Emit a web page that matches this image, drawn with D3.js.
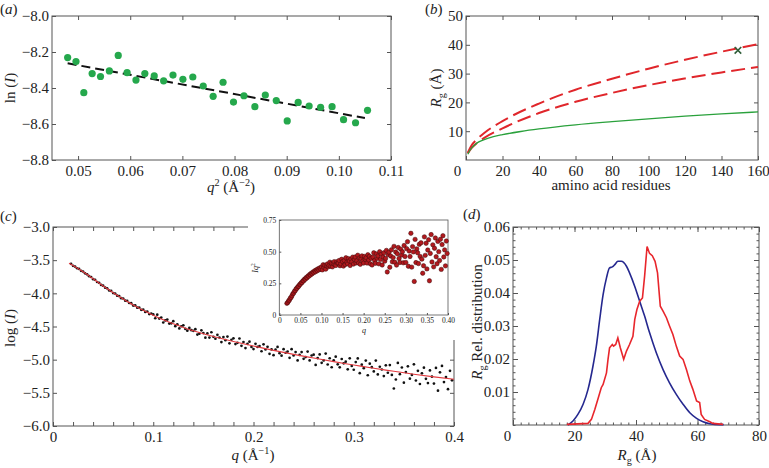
<!DOCTYPE html>
<html>
<head>
<meta charset="utf-8">
<script src="https://cdn.jsdelivr.net/npm/d3@7"></script>
<style>
  body { margin: 0; background: #fff; }
</style>
</head>
<body>
<script>
// (a) Guinier plot
const aQ2 = [0.048, 0.0496, 0.0511, 0.0527, 0.0543, 0.056, 0.0577, 0.0594, 0.0611, 0.0628, 0.0646,
  0.0664, 0.0682, 0.0701, 0.072, 0.074, 0.0759, 0.0778, 0.0798, 0.0818, 0.0839, 0.0859, 0.088,
  0.0901, 0.0922, 0.0943, 0.0965, 0.0987, 0.1009, 0.1032, 0.1055];
const aLnI = [-8.231, -8.253, -8.426, -8.32, -8.336, -8.305, -8.219, -8.315, -8.356, -8.32, -8.333,
  -8.36, -8.328, -8.352, -8.339, -8.389, -8.446, -8.368, -8.478, -8.443, -8.504, -8.439, -8.47,
  -8.583, -8.48, -8.5, -8.507, -8.504, -8.576, -8.593, -8.524];
const aFitQ2 = [0.048, 0.105];
const aFitLnI = [-8.263, -8.567];

// (b) Rg vs chain length
const bGreenN = [1, 2, 3, 4, 5, 7, 10, 15, 20, 30, 40, 60, 80, 100, 120, 140, 160];
const bGreenRg = [2.0, 3.2, 4.1, 4.8, 5.4, 6.3, 7.1, 8.1, 8.8, 9.9, 10.8, 12.2, 13.3, 14.3, 15.2, 16.0, 16.7];
const bCoilN = [1, 3, 6, 10, 20, 40, 60, 80, 100, 120, 140, 160];
const bUpperRg = [2.5, 5.0, 7.2, 9.4, 13.5, 19.6, 24.4, 28.2, 31.7, 34.8, 37.6, 40.2];
const bLowerRg = [2.3, 4.1, 5.9, 7.7, 11.0, 16.3, 20.2, 23.3, 26.0, 28.3, 30.4, 32.3];
const bMarkN = [149];
const bMarkRg = [38.1];

// (c) scattering curve, shared q for main plot and inset
const cQ = [0.018, 0.020, 0.022, 0.024, 0.026, 0.028, 0.030, 0.032, 0.034, 0.036, 0.038, 0.040,
  0.042, 0.044, 0.046, 0.048, 0.050, 0.052, 0.054, 0.056, 0.058, 0.060, 0.062, 0.064, 0.066, 0.068,
  0.070, 0.072, 0.074, 0.076, 0.078, 0.080, 0.082, 0.084, 0.086, 0.088, 0.090, 0.092, 0.094, 0.096,
  0.098, 0.100, 0.102, 0.104, 0.106, 0.108, 0.110, 0.112, 0.114, 0.116, 0.118, 0.120, 0.122, 0.124,
  0.126, 0.128, 0.130, 0.132, 0.134, 0.136, 0.138, 0.140, 0.142, 0.144, 0.146, 0.148, 0.150, 0.152,
  0.154, 0.156, 0.158, 0.160, 0.162, 0.164, 0.166, 0.168, 0.170, 0.172, 0.174, 0.176, 0.178, 0.180,
  0.182, 0.184, 0.186, 0.188, 0.190, 0.192, 0.194, 0.196, 0.198, 0.200, 0.202, 0.204, 0.206, 0.208,
  0.210, 0.212, 0.214, 0.216, 0.218, 0.220, 0.222, 0.224, 0.226, 0.228, 0.230, 0.232, 0.234, 0.236,
  0.238, 0.240, 0.242, 0.244, 0.246, 0.248, 0.250, 0.252, 0.254, 0.256, 0.258, 0.260, 0.262, 0.264,
  0.266, 0.268, 0.270, 0.272, 0.274, 0.276, 0.278, 0.280, 0.282, 0.284, 0.286, 0.288, 0.290, 0.292,
  0.294, 0.296, 0.298, 0.300, 0.302, 0.304, 0.306, 0.308, 0.310, 0.312, 0.314, 0.316, 0.318, 0.320,
  0.322, 0.324, 0.326, 0.328, 0.330, 0.332, 0.334, 0.336, 0.338, 0.340, 0.342, 0.344, 0.346, 0.348,
  0.350, 0.352, 0.354, 0.356, 0.358, 0.360, 0.362, 0.364, 0.366, 0.368, 0.370, 0.372, 0.374, 0.376,
  0.378, 0.380, 0.382, 0.384, 0.386, 0.388, 0.390, 0.392, 0.394, 0.396, 0.398];
const cLogI = [-3.555, -3.585, -3.596, -3.622, -3.632, -3.661, -3.671, -3.699, -3.713, -3.742, -3.754,
  -3.786, -3.797, -3.829, -3.841, -3.873, -3.884, -3.915, -3.925, -3.957, -3.964, -3.996, -4.003,
  -4.035, -4.041, -4.073, -4.078, -4.11, -4.114, -4.146, -4.149, -4.184, -4.183, -4.216, -4.215,
  -4.249, -4.246, -4.28, -4.274, -4.312, -4.305,
  -4.318, -4.376, -4.322, -4.38, -4.366, -4.44, -4.408, -4.396, -4.456, -4.452, -4.42, -4.495,
  -4.466, -4.529, -4.496, -4.483, -4.537, -4.563, -4.521, -4.555,
  -4.565, -4.541, -4.622, -4.609, -4.557, -4.599, -4.668, -4.604, -4.667, -4.587, -4.656, -4.685,
  -4.626, -4.666, -4.735, -4.659, -4.706, -4.652, -4.754, -4.70,
  -4.679, -4.765, -4.746, -4.681, -4.792, -4.734, -4.826, -4.761, -4.729, -4.808, -4.841, -4.761,
  -4.808, -4.794, -4.873, -4.768, -4.847, -4.807, -4.912, -4.846,
  -4.932, -4.85, -4.808, -4.902, -4.94, -4.842, -4.896, -4.878, -4.972, -4.842, -4.936, -4.885,
  -5.011, -4.928, -4.886, -4.987, -4.961, -4.878, -5.012, -4.937,
  -4.925, -5.08, -4.976, -4.921, -5.047, -5.012, -4.908, -5.073, -4.979, -5.114, -5.01, -4.955,
  -5.07, -5.115, -4.99, -5.055, -5.03, -5.145, -4.98, -5.095,
  -5.152, -5.037, -4.982, -5.203, -5.076, -5.129, -5.014, -5.235, -5.06, -5.113, -5.178, -5.014,
  -5.223, -5.107, -5.148, -5.248, -5.085, -5.197, -5.082, -5.23,
  -5.435, -5.299, -5.049, -5.218, -5.118, -5.347, -5.187, -5.101, -5.286, -5.23, -5.07, -5.314,
  -5.168, -5.367, -5.206, -5.12, -5.289, -5.353, -5.162, -5.256,
  -5.36, -5.124, -5.467, -5.191, -5.094, -5.338, -5.261, -5.445, -5.168, -5.312];
const cFitQ = [0.016, 0.02, 0.03, 0.04, 0.05, 0.06, 0.07, 0.08, 0.09, 0.10, 0.11, 0.12, 0.13, 0.14,
  0.15, 0.16, 0.18, 0.20, 0.22, 0.24, 0.26, 0.28, 0.30, 0.32, 0.34, 0.36, 0.38, 0.40];
const cFitLogI = [-3.545, -3.58, -3.675, -3.78, -3.89, -3.99, -4.085, -4.175, -4.255, -4.33, -4.40,
  -4.46, -4.515, -4.565, -4.61, -4.65, -4.725, -4.795, -4.86, -4.92, -4.975, -5.03, -5.08, -5.13,
  -5.175, -5.22, -5.26, -5.295];
const cKratky = [0.092, 0.099, 0.111, 0.118, 0.132, 0.139, 0.152, 0.167, 0.173, 0.187, 0.193, 0.207,
  0.211, 0.224, 0.226, 0.240, 0.243, 0.255, 0.256, 0.27, 0.27, 0.284, 0.283, 0.296, 0.294, 0.308,
  0.306, 0.32, 0.316, 0.33, 0.326, 0.34, 0.335, 0.349, 0.342, 0.357, 0.35, 0.365, 0.356, 0.372, 0.362,
  0.379, 0.356, 0.397, 0.375, 0.392, 0.362, 0.388, 0.403, 0.38, 0.391, 0.417, 0.384, 0.407, 0.38,
  0.405, 0.421, 0.397, 0.391, 0.42, 0.409,
  0.41, 0.431, 0.389, 0.403, 0.44, 0.422, 0.386, 0.43, 0.398, 0.452, 0.416, 0.404, 0.445, 0.427,
  0.391, 0.442, 0.419, 0.457, 0.402, 0.439,
  0.458, 0.411, 0.428, 0.472, 0.41, 0.45, 0.40, 0.444, 0.467, 0.425, 0.41, 0.462, 0.439, 0.452,
  0.41, 0.476, 0.434, 0.463, 0.404, 0.448,
  0.395, 0.457, 0.491, 0.43, 0.408, 0.482, 0.448, 0.466, 0.404, 0.50, 0.439, 0.479, 0.395, 0.458,
  0.491, 0.425, 0.447, 0.51, 0.34, 0.477,
  0.496, 0.377, 0.466, 0.515, 0.42, 0.453, 0.542, 0.416, 0.497, 0.394, 0.483, 0.533, 0.446, 0.415,
  0.52, 0.473, 0.499, 0.412, 0.549, 0.462,
  0.415, 0.524, 0.579, 0.385, 0.505, 0.462, 0.645, 0.378, 0.54, 0.498, 0.265, 0.597, 0.414, 0.522,
  0.491, 0.406, 0.558, 0.462, 0.57, 0.441,
  0.33, 0.389, 0.617, 0.471, 0.566, 0.364, 0.513, 0.594, 0.27, 0.486, 0.635, 0.419, 0.554, 0.38,
  0.527, 0.608, 0.46, 0.405, 0.581, 0.50,
  0.43, 0.598, 0.36, 0.556, 0.626, 0.458, 0.514, 0.388, 0.584, 0.486];

// (d) Rg distributions
const dBlueRg = [17.9, 19.5, 21.1, 22.8, 24.4, 26.0, 27.1, 28.2, 29.3, 30.4, 31.4, 32.3, 33.1, 34.1,
  35.2, 36.9, 37.9, 39.6, 41.2, 42.8, 44.4, 46.6, 48.8, 50.9, 53.1, 55.3, 57.5, 59.7, 61.8, 64.0,
  67.2, 68.5];
const dBlue = [0, 0.0012, 0.0032, 0.0063, 0.0108, 0.0178, 0.0239, 0.032, 0.0395, 0.0446, 0.0476,
  0.0479, 0.0486, 0.0496, 0.0496, 0.0481, 0.0461, 0.042, 0.0375, 0.033, 0.028, 0.0219, 0.0168,
  0.0128, 0.0093, 0.0063, 0.0037, 0.002, 0.001, 0.0004, 0.0001, 0.0001];
const dRedRg = [17.5, 24.4, 25.5, 26.6, 27.6, 28.7, 29.3, 30.4, 30.9, 31.4, 32.3, 32.7, 33.4, 34.1,
  34.9, 36.0, 36.9, 37.9, 39.0, 39.6, 40.3, 41.2, 42.1, 42.8, 43.6, 44.4, 45.3, 46.2, 47.0, 47.9,
  48.8, 49.9, 50.9, 52.0, 53.1, 54.2, 55.3, 56.4, 57.5, 58.5, 59.7, 60.7, 61.2, 62.3, 64.0, 65.0, 68.3];
const dRed = [0.0002, 0.0005, 0.0017, 0.0047, 0.0078, 0.0113, 0.0123, 0.0158, 0.0199, 0.0234,
  0.0244, 0.0239, 0.0244, 0.0264, 0.0234, 0.0199, 0.0224, 0.0244, 0.0269, 0.032,
  0.035, 0.0375, 0.0385, 0.0451, 0.0541, 0.052, 0.0513, 0.0496, 0.0461, 0.036,
  0.0345, 0.0325, 0.03, 0.0274, 0.0239, 0.0209, 0.0199, 0.0168, 0.0133, 0.0108,
  0.0073, 0.0068, 0.0032, 0.0017, 0.001, 0.0005, 0.0002];

// tick values
const aXTicks = [0.05, 0.06, 0.07, 0.08, 0.09, 0.10, 0.11];
const aYTicks = [-8.8, -8.6, -8.4, -8.2, -8.0];
const bXTicks = [0, 20, 40, 60, 80, 100, 120, 140, 160];
const bYTicks = [10, 20, 30, 40, 50];
const cXTicks = [0, 0.02, 0.04, 0.06, 0.08, 0.1, 0.12, 0.14, 0.16, 0.18, 0.2, 0.22, 0.24, 0.26,
  0.28, 0.3, 0.32, 0.34, 0.36, 0.38, 0.4];
const cYTicks = [-6.0, -5.5, -5.0, -4.5, -4.0, -3.5, -3.0];
const insXTicks = [0, 0.05, 0.10, 0.15, 0.20, 0.25, 0.30, 0.35, 0.40];
const insYTicks = [0, 0.25, 0.50, 0.75];
const dXTicks = [0, 20, 40, 60, 80];
const dYTicks = [0.01, 0.02, 0.03, 0.04, 0.05, 0.06];

const W = 769, H = 468;
const FONT = "'Liberation Serif'";
const svg = d3.select("body").append("svg")
  .attr("width", W).attr("height", H)
  .attr("font-family", FONT)
  .style("display", "block");

const minus = s => s.replace("-", "\u2212");
const frameColor = "#555";

function makePanel(box, xDom, yDom) {
  return {
    box,
    x: d3.scaleLinear().domain(xDom).range([box.l, box.r]),
    y: d3.scaleLinear().domain(yDom).range([box.b, box.t])
  };
}

function addAxis(axis, tx, ty, fs) {
  const a = svg.append("g").attr("transform", `translate(${tx},${ty})`).call(axis);
  a.attr("font-family", FONT).attr("font-size", fs).attr("color", "#222");
  a.select(".domain").remove();
  a.selectAll(".tick line").attr("stroke", frameColor);
  return a;
}

function axes(p, o) {
  const { x, y, box } = p;
  const fs = o.fs || 15, len = o.len || 4;
  const ax = {};
  ax.bottom = addAxis(d3.axisBottom(x).tickValues(o.xt).tickSizeInner(-len).tickSizeOuter(0)
    .tickPadding(o.padX || 5).tickFormat(o.xf), 0, box.b, fs);
  ax.left = addAxis(d3.axisLeft(y).tickValues(o.yt).tickSizeInner(-len).tickSizeOuter(0)
    .tickPadding(o.padY || 3).tickFormat(o.yf), box.l, 0, fs);
  if (o.mirror !== false) {
    addAxis(d3.axisTop(x).tickValues(o.xt).tickSizeInner(-len).tickSizeOuter(0).tickFormat(""), 0, box.t, fs);
    addAxis(d3.axisRight(y).tickValues(o.yt).tickSizeInner(-len).tickSizeOuter(0).tickFormat(""), box.r, 0, fs);
  }
  svg.append("rect")
    .attr("x", box.l).attr("y", box.t)
    .attr("width", box.r - box.l).attr("height", box.b - box.t)
    .attr("fill", "none").attr("stroke", frameColor).attr("stroke-width", o.sw || 1);
  return ax;
}

function label(x, y, rot, parts, fs, anchor) {
  const t = svg.append("text")
    .attr("transform", `translate(${x},${y}) rotate(${rot})`)
    .attr("text-anchor", anchor || "middle")
    .attr("font-size", fs).attr("fill", "#222");
  let shift = 0;
  parts.forEach(pt => {
    const target = pt.sup ? -fs * 0.38 : pt.sub ? fs * 0.28 : 0;
    const s = t.append("tspan").attr("dy", target - shift).text(pt.t);
    shift = target;
    if (pt.sup || pt.sub) s.attr("font-size", fs * 0.68);
    if (pt.i) s.attr("font-style", "italic");
  });
  return t;
}

// ---------- (a)
const pa = makePanel({ l: 52, r: 391, t: 16, b: 160 }, [0.045, 0.11], [-8.8, -8.0]);
axes(pa, { xt: aXTicks, yt: aYTicks, xf: d3.format(".2f"), yf: d => minus(d3.format(".1f")(d)) });

svg.append("path")
  .datum(d3.zip(aFitQ2, aFitLnI))
  .attr("d", d3.line().x(d => pa.x(d[0])).y(d => pa.y(d[1])))
  .attr("fill", "none").attr("stroke", "#111").attr("stroke-width", 2)
  .attr("stroke-dasharray", "9,5");

svg.append("g").selectAll("circle")
  .data(d3.zip(aQ2, aLnI)).join("circle")
  .attr("cx", d => pa.x(d[0])).attr("cy", d => pa.y(d[1])).attr("r", 3.6)
  .attr("fill", "#25a84c");

label(0, 14, 0, [{ t: "(" }, { t: "a", i: true }, { t: ")" }], 15, "start");
label(231, 192, 0, [{ t: "q", i: true }, { t: "2", sup: true }, { t: " (Å" }, { t: "\u22122", sup: true }, { t: ")" }], 15);
label(15, 88, -90, [{ t: "ln (" }, { t: "I", i: true }, { t: ")" }], 15);

// ---------- (b)
const pb = makePanel({ l: 466, r: 758, t: 16, b: 160 }, [0, 160], [0, 50]);
const bAx = axes(pb, { xt: bXTicks, yt: bYTicks, xf: d3.format("d"), yf: d3.format("d") });
bAx.bottom.selectAll(".tick text").filter(d => d === 0).attr("dx", -9);

const bLine = d3.line().curve(d3.curveMonotoneX).x(d => pb.x(d[0])).y(d => pb.y(d[1]));
[bUpperRg, bLowerRg].forEach(rg => {
  svg.append("path").datum(d3.zip(bCoilN, rg)).attr("d", bLine)
    .attr("fill", "none").attr("stroke", "#e0262b").attr("stroke-width", 2)
    .attr("stroke-dasharray", "14,6");
});
svg.append("path").datum(d3.zip(bGreenN, bGreenRg)).attr("d", bLine)
  .attr("fill", "none").attr("stroke", "#2aa13c").attr("stroke-width", 1.3);
svg.append("g").selectAll("path")
  .data(d3.zip(bMarkN, bMarkRg)).join("path")
  .attr("transform", d => `translate(${pb.x(d[0])},${pb.y(d[1])})`)
  .attr("d", d3.symbol(d3.symbolTimes, 30))
  .attr("fill", "none").attr("stroke", "#2f5d38").attr("stroke-width", 1.6);

label(425, 14, 0, [{ t: "(" }, { t: "b", i: true }, { t: ")" }], 15, "start");
label(611, 190, 0, [{ t: "amino acid residues" }], 15);
label(441, 88, -90, [{ t: "R", i: true }, { t: "g", sub: true }, { t: " (Å)" }], 15);

// ---------- (c)
const pc = makePanel({ l: 53, r: 454, t: 227, b: 426 }, [0, 0.4], [-6, -3]);
const cFmt = d => {
  const k = Math.round(d * 100);
  if (k % 10 !== 0) return "";
  return k === 0 ? "0" : d3.format(".1f")(d);
};
axes(pc, { xt: cXTicks, yt: cYTicks, xf: cFmt, yf: d => minus(d3.format(".1f")(d)) });

svg.append("g").selectAll("circle")
  .data(d3.zip(cQ, cLogI)).join("circle")
  .attr("cx", d => pc.x(d[0])).attr("cy", d => pc.y(d[1])).attr("r", 1.35)
  .attr("fill", "#111");
svg.append("path").datum(d3.zip(cFitQ, cFitLogI))
  .attr("d", d3.line().curve(d3.curveMonotoneX).x(d => pc.x(d[0])).y(d => pc.y(d[1])))
  .attr("fill", "none").attr("stroke", "#e23a3f").attr("stroke-width", 1.1);

label(0, 221, 0, [{ t: "(" }, { t: "c", i: true }, { t: ")" }], 15, "start");
label(253, 460, 0, [{ t: "q", i: true }, { t: " (Å" }, { t: "\u22121", sup: true }, { t: ")" }], 15);
label(15, 328, -90, [{ t: "log (" }, { t: "I", i: true }, { t: ")" }], 15);

// inset (Kratky plot) on a white patch
svg.append("rect").attr("x", 248).attr("y", 205).attr("width", 210).attr("height", 135).attr("fill", "#fff");
const pi = makePanel({ l: 279.3, r: 448, t: 220, b: 315 }, [0, 0.4], [0, 0.75]);
axes(pi, {
  xt: insXTicks, yt: insYTicks, fs: 7.5, len: 2, padX: 3, padY: 3, mirror: false, sw: 0.8,
  xf: d => d === 0 ? "0" : d3.format(".2f")(d),
  yf: d => d === 0 ? "0" : d3.format(".2f")(d)
});
svg.append("g").selectAll("circle")
  .data(d3.zip(cQ, cKratky)).join("circle")
  .attr("cx", d => pi.x(d[0])).attr("cy", d => pi.y(d[1])).attr("r", 2.2)
  .attr("fill", "#b3191e").attr("stroke", "#3b0a0a").attr("stroke-width", 0.5);
label(364, 333, 0, [{ t: "q", i: true }], 8);
label(258, 268, -90, [{ t: "Iq", i: true }, { t: "2", sup: true }], 8);

// ---------- (d)
const pd = makePanel({ l: 513, r: 759, t: 227, b: 425 }, [0, 80], [0, 0.06]);
const dAx = axes(pd, { xt: dXTicks, yt: dYTicks, xf: d3.format("d"), yf: d3.format(".2f"), len: 5 });
dAx.bottom.selectAll(".tick text").filter(d => d === 0).attr("dx", -6);
const dMinorX = d3.range(0, 80.01, 2.5);
const dMinorY = d3.range(0, 0.0601, 0.002);
addAxis(d3.axisBottom(pd.x).tickValues(dMinorX).tickSizeInner(-2.5).tickSizeOuter(0).tickFormat(""), 0, pd.box.b, 15);
addAxis(d3.axisTop(pd.x).tickValues(dMinorX).tickSizeInner(-2.5).tickSizeOuter(0).tickFormat(""), 0, pd.box.t, 15);
addAxis(d3.axisLeft(pd.y).tickValues(dMinorY).tickSizeInner(-2.5).tickSizeOuter(0).tickFormat(""), pd.box.l, 0, 15);
addAxis(d3.axisRight(pd.y).tickValues(dMinorY).tickSizeInner(-2.5).tickSizeOuter(0).tickFormat(""), pd.box.r, 0, 15);

svg.append("path").datum(d3.zip(dBlueRg, dBlue))
  .attr("d", d3.line().curve(d3.curveMonotoneX).x(d => pd.x(d[0])).y(d => pd.y(d[1])))
  .attr("fill", "none").attr("stroke", "#25288f").attr("stroke-width", 1.6);
svg.append("path").datum(d3.zip(dRedRg, dRed))
  .attr("d", d3.line().x(d => pd.x(d[0])).y(d => pd.y(d[1])))
  .attr("fill", "none").attr("stroke", "#e8262c").attr("stroke-width", 1.6);

label(463, 219, 0, [{ t: "(" }, { t: "d", i: true }, { t: ")" }], 15, "start");
label(637, 460, 0, [{ t: "R", i: true }, { t: "g", sub: true }, { t: " (Å)" }], 15);
label(482, 322, -90, [{ t: "R", i: true }, { t: "g", sub: true }, { t: " Rel. distribution" }], 15);
</script>
</body>
</html>
